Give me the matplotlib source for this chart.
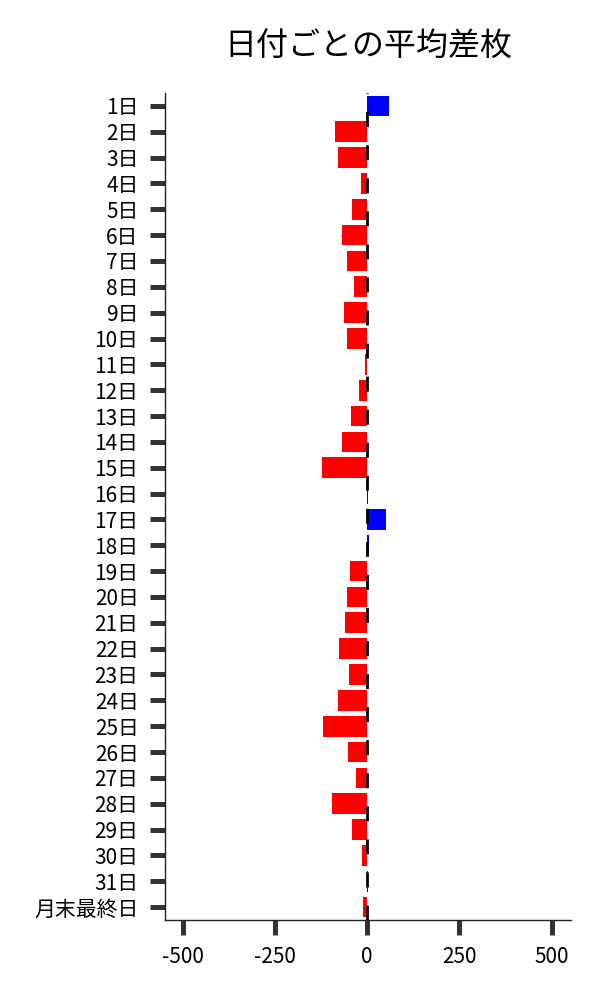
import numpy as np
import matplotlib.pyplot as plt

plt.rcParams["font.family"] = ["Noto Sans CJK JP", "DejaVu Sans"]
plt.rcParams["axes.unicode_minus"] = False

# 日付ごとの平均差枚
days = [f"{d}日" for d in range(1, 32)] + ["月末最終日"]
avg_diff = [60, -87, -78, -16, -41, -68, -54, -35, -64, -54,
            -7, -22, -43, -68, -122, 1, 51, 5, -46, -54,
            -60, -76, -48, -78, -120, -51, -30, -95, -41, -14,
            1, -11]

title = "日付ごとの平均差枚"
xticks = [-500, -250, 0, 250, 500]

colors = ["blue" if v > 0 else "red" for v in avg_diff]
ypos = np.arange(len(days))

fig = plt.figure(figsize=(6, 10), dpi=100)
ax = fig.add_axes([0.275, 0.08, 0.677, 0.827])

ax.barh(ypos, avg_diff, height=0.8, color=colors, zorder=2)
ax.axvline(0, color="black", lw=2, linestyle=(0, (5.4, 6.5)), zorder=3)

ax.set_yticks(ypos)
ax.set_yticklabels(days)
ax.set_ylim(len(days) - 0.5, -0.5)
ax.set_xticks(xticks)
ax.set_xticklabels([str(t) for t in xticks])
ax.set_xlim(-548, 553)

ax.tick_params(axis="both", length=11, width=3.6, color="#333333",
               labelsize=15, pad=8)
for s in ["top", "right"]:
    ax.spines[s].set_visible(False)
for s in ["left", "bottom"]:
    ax.spines[s].set_color("#222222")
    ax.spines[s].set_linewidth(1)

ax.set_title(title, fontsize=23, pad=27)

fig.savefig("out.png", dpi=100)
